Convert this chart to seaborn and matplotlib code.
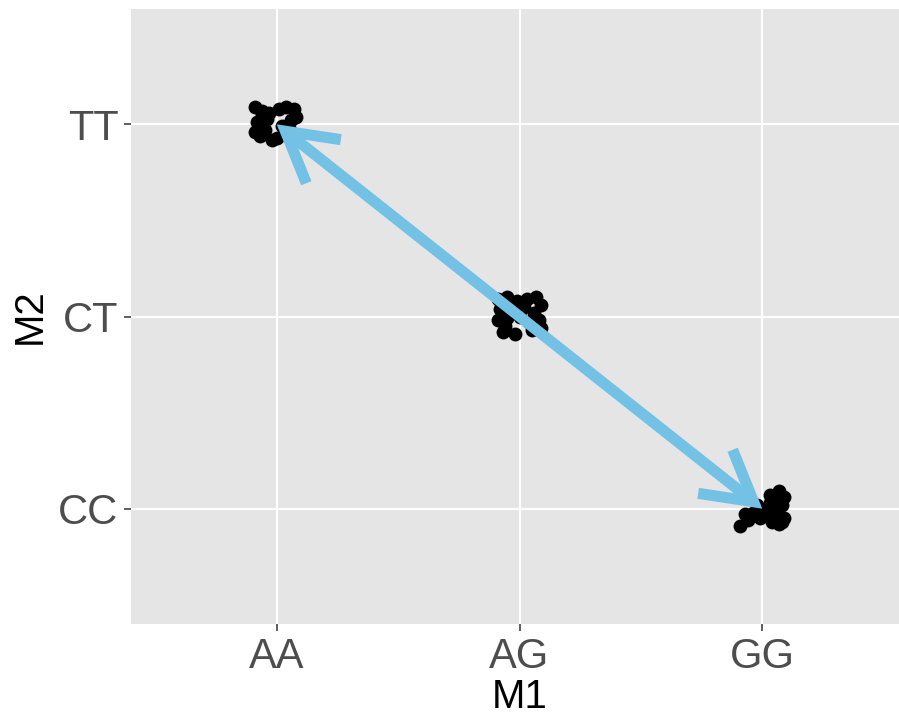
import matplotlib
matplotlib.use("Agg")
import matplotlib.pyplot as plt
from matplotlib.patches import FancyArrowPatch
import seaborn as sns
import pandas as pd

# Genotype categories on each axis
m1_levels = ["AA", "AG", "GG"]
m2_levels = ["CC", "CT", "TT"]

# Genotype pairs observed (one group per pair)
m1_groups = ["AA", "AG", "GG"]
m2_groups = ["TT", "CT", "CC"]

# Jitter offsets of the individual samples within each group
jitter_x = [
    [-0.09, -0.06, -0.03, 0.01, 0.04, 0.07, 0.08, -0.08, -0.05, 0.02,
     0.06, -0.07, -0.02, 0.03, 0.05, -0.09, -0.04, 0.00, 0.07, -0.06],
    [-0.09, -0.05, -0.01, 0.03, 0.07, 0.09, -0.08, -0.03, 0.02, 0.06,
     -0.09, -0.05, 0.00, 0.04, 0.08, -0.07, -0.02, 0.05, 0.09, -0.06],
    [0.07, 0.09, 0.05, 0.03, -0.02, 0.08, 0.06, -0.04, 0.01, 0.09,
     -0.09, -0.06, 0.04, 0.07, -0.01, 0.02, 0.05, -0.07, 0.08, 0.03],
]
jitter_y = [
    [0.09, 0.07, 0.06, 0.08, 0.09, 0.08, 0.04, 0.01, -0.03, -0.01,
     0.02, -0.06, -0.08, -0.05, -0.02, -0.04, 0.03, -0.07, -0.05, 0.05],
    [0.09, 0.10, 0.08, 0.09, 0.10, 0.06, 0.04, 0.03, 0.05, 0.02,
     -0.02, -0.01, 0.00, -0.03, -0.02, -0.08, -0.09, -0.07, -0.06, -0.05],
    [0.09, 0.06, 0.05, 0.03, 0.02, 0.02, -0.01, -0.02, -0.03, -0.05,
     -0.09, -0.06, -0.07, -0.08, -0.05, 0.00, -0.04, -0.03, -0.07, 0.07],
]

# Arrow between the two homozygous groups
arrow_from = ("AA", "TT")
arrow_to = ("GG", "CC")

rows = []
for g1, g2, jx, jy in zip(m1_groups, m2_groups, jitter_x, jitter_y):
    for dx, dy in zip(jx, jy):
        rows.append({"M1": m1_levels.index(g1) + dx,
                     "M2": m2_levels.index(g2) + dy})
df = pd.DataFrame(rows)

sns.set_theme(style="darkgrid")
plt.rcParams["font.family"] = ["Liberation Sans", "DejaVu Sans"]

fig = plt.figure(figsize=(8.99, 7.15), dpi=100)
fig.patch.set_facecolor("white")
ax = fig.add_axes([131 / 899, 91 / 715, 777 / 899, 615 / 715])
ax.set_facecolor("#E5E5E5")

sns.scatterplot(data=df, x="M1", y="M2", ax=ax, color="black",
                s=100, linewidth=0, zorder=3)

x0 = m1_levels.index(arrow_from[0])
y0 = m2_levels.index(arrow_from[1])
x1 = m1_levels.index(arrow_to[0])
y1 = m2_levels.index(arrow_to[1])
arrow = FancyArrowPatch((x0, y0), (x1, y1),
                        arrowstyle="<->,head_length=35,head_width=20",
                        mutation_scale=1, color="#73C2E5", linewidth=8,
                        shrinkA=0, shrinkB=0, joinstyle="miter",
                        capstyle="butt", zorder=4)
ax.add_patch(arrow)

ax.set_xlim(-0.6, 2.6)
ax.set_ylim(-0.6, 2.6)
ax.set_xticks(range(len(m1_levels)))
ax.set_xticklabels(m1_levels)
ax.set_yticks(range(len(m2_levels)))
ax.set_yticklabels(m2_levels)

ax.grid(True, color="white", linewidth=1.5)
ax.set_axisbelow(True)
for side in ax.spines.values():
    side.set_visible(False)

ax.tick_params(axis="both", which="major", length=5, width=1.1,
               color="#333333", labelcolor="#4D4D4D", labelsize=30, pad=4,
               bottom=True, left=True)
ax.set_xlabel("M1", fontsize=29, color="black", labelpad=1)
ax.set_ylabel("M2", fontsize=29, color="black", labelpad=7)

fig.savefig("out.png", dpi=100)
